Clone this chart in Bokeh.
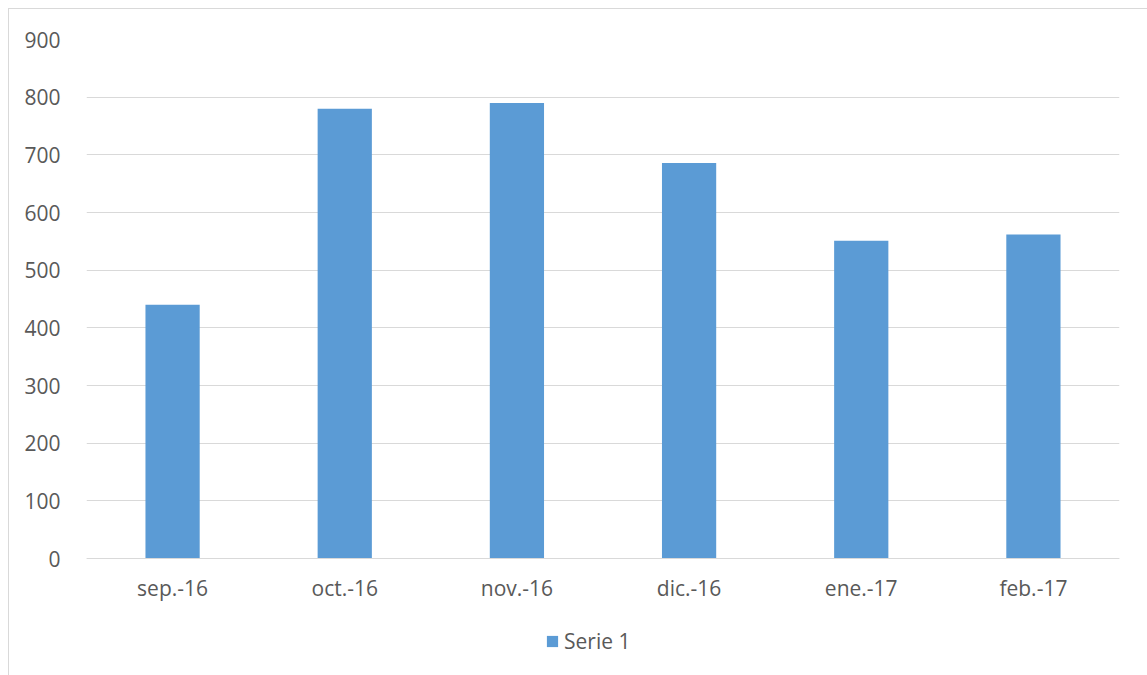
from bokeh.plotting import figure
from bokeh.models import FactorRange, Range1d, FixedTicker, Legend, LegendItem, ColumnDataSource
from bokeh.embed import file_html
from bokeh.resources import INLINE

categories = ["sep.-16", "oct.-16", "nov.-16", "dic.-16", "ene.-17", "feb.-17"]
serie1 = [440, 780, 790, 686, 551, 562]
y_ticks = [0, 100, 200, 300, 400, 500, 600, 700, 800, 900]

src = ColumnDataSource(data=dict(cat=categories, val=serie1))

# value area is 519 px tall for 0..900; frame extends down to hold the axis labels and legend
y_max = 900
y_min = y_max - 637 * y_max / 519

p = figure(width=1139, height=667, output_backend="svg", toolbar_location=None,
           x_range=FactorRange(factors=categories, range_padding=0),
           y_range=Range1d(y_min, y_max),
           min_border_left=77, min_border_right=29, min_border_top=30, min_border_bottom=0)
p.styles = {"margin-left": "8px", "margin-top": "8px",
            "border-left": "1px solid #d9d9d9", "border-top": "1px solid #d9d9d9"}
p.outline_line_color = None

r = p.vbar(x="cat", top="val", width=0.315, source=src, fill_color="#5B9BD5", line_color=None)

p.xgrid.grid_line_color = None
p.ygrid.grid_line_color = "#d9d9d9"
p.ygrid.grid_line_width = 1
p.yaxis.ticker = FixedTicker(ticks=y_ticks)
p.yaxis.axis_line_color = None
p.yaxis.major_tick_line_color = None
p.yaxis.minor_tick_line_color = None
p.yaxis.major_label_standoff = 20
p.xaxis.fixed_location = 0
p.xaxis.axis_line_color = "#d9d9d9"
p.xaxis.major_tick_line_color = None
p.xaxis.minor_tick_line_color = None
p.xaxis.major_label_standoff = 9
for ax in (p.xaxis, p.yaxis):
    ax.major_label_text_font = "Open Sans"
    ax.major_label_text_font_size = "21px"
    ax.major_label_text_color = "#595959"

legend = Legend(items=[LegendItem(label="Serie 1", renderers=[r])], location=(459, 21),
                orientation="horizontal", border_line_color=None, background_fill_alpha=0,
                label_text_font="Open Sans", label_text_font_size="21px",
                label_text_color="#595959", glyph_width=14, glyph_height=14,
                label_standoff=5, margin=0, padding=3)
p.add_layout(legend, "center")

open("out.html", "w").write(file_html(p, INLINE))
